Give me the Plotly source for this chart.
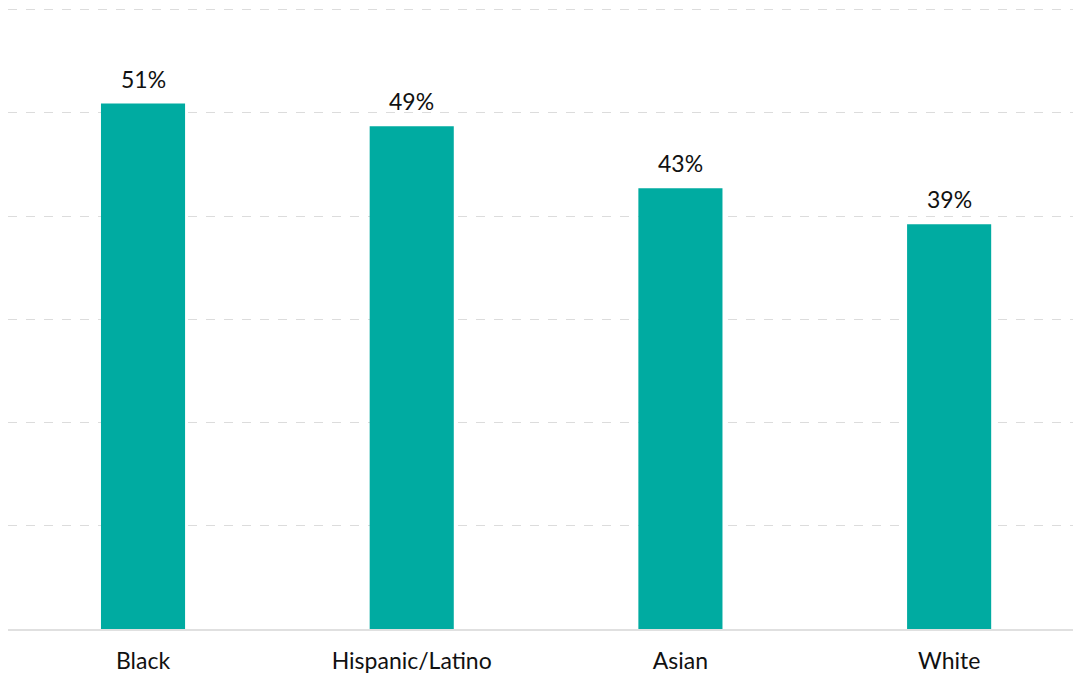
import plotly.graph_objects as go

categories = ["Black", "Hispanic/Latino", "Asian", "White"]
values = [50.9, 48.7, 42.7, 39.2]
labels = ["51%", "49%", "43%", "39%"]

fig = go.Figure()
fig.add_trace(go.Bar(
    x=categories, y=values,
    marker=dict(color="#00ABA1", line=dict(width=0)),
    width=0.313,
    hoverinfo="skip",
))

for c, v, t in zip(categories, values, labels):
    fig.add_annotation(x=c, y=v, text=t, showarrow=False, yanchor="bottom",
                       yshift=9, font=dict(size=23, color="#111111", family="Lato"))

fig.update_layout(
    width=1073, height=679,
    margin=dict(l=8, r=0, t=8, b=50),
    plot_bgcolor="white", paper_bgcolor="white",
    showlegend=False,
    font=dict(family="Lato", size=23, color="#111111"),
    xaxis=dict(range=[-0.5025, 3.461], showgrid=False, showline=True,
               linecolor="#e0e0e0", linewidth=2, ticks="", tickfont=dict(size=23),
               ticklabelstandoff=10),
    yaxis=dict(range=[0, 60.15], dtick=10, showgrid=True, gridcolor="#dcdcdc",
               griddash="dash", gridwidth=1, showticklabels=False, zeroline=False,
               showline=False),
)

fig.write_html("out.html")
